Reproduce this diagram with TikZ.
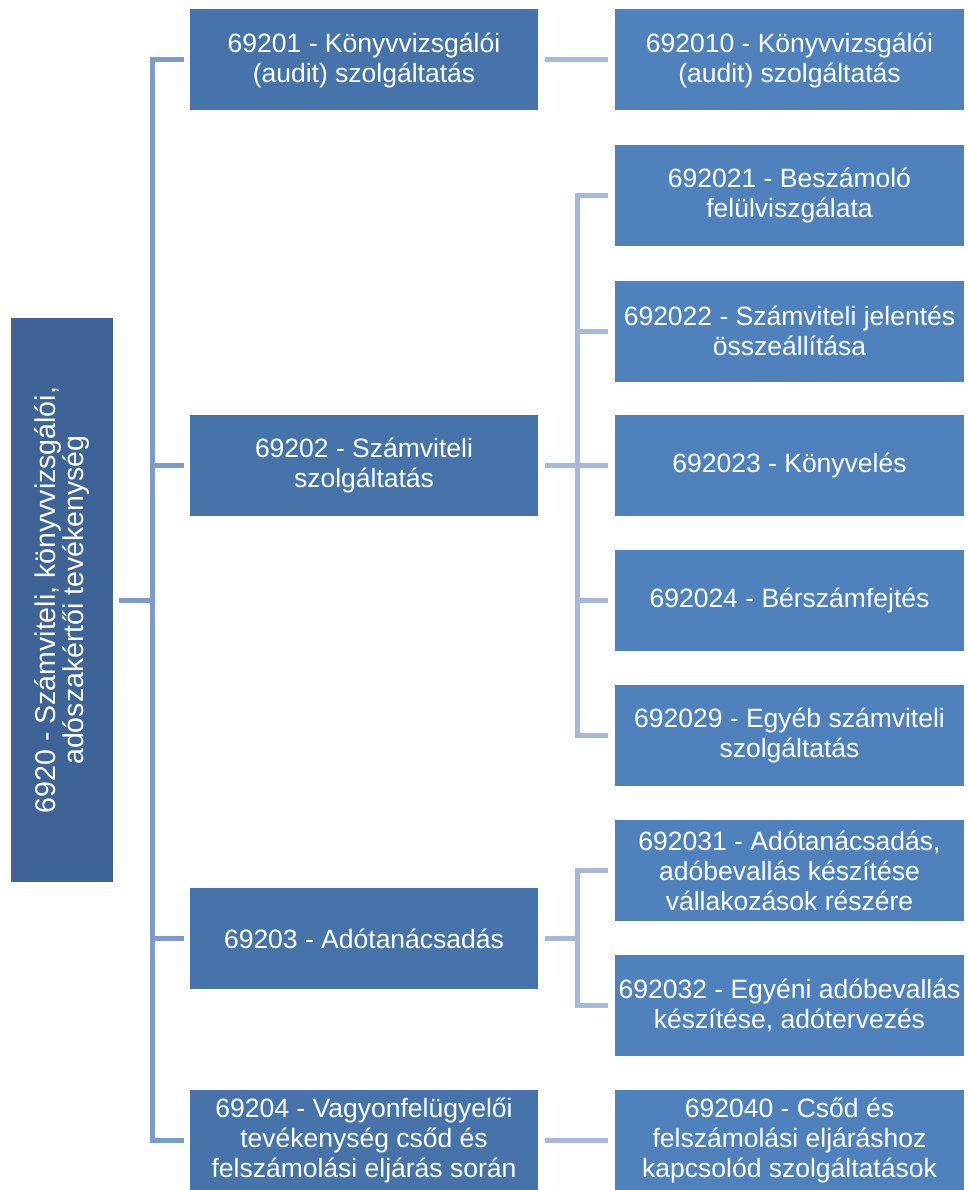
\documentclass[tikz,border=0pt]{standalone}
\usepackage{fontspec}
\setmainfont{Liberation Sans}
\usepackage{xcolor}
\definecolor{rootblue}{HTML}{3E6497}
\definecolor{midblue}{HTML}{4674AA}
\definecolor{leafblue}{HTML}{4F81BD}
\definecolor{trunkline}{HTML}{7B9CCB}
\definecolor{branchline}{HTML}{A6B9DA}

\begin{document}
\begin{tikzpicture}[x=1pt,y=-1pt]
\tikzset{box/.style={inner sep=0pt,align=center,text=white,font=\fontsize{26.5}{30}\selectfont}}
\tikzset{rootbox/.style={box,fill=rootblue,minimum width=564pt,minimum height=102pt,rotate=90,font=\fontsize{28.5}{28.5}\selectfont}}
\tikzset{midbox/.style={box,fill=midblue,minimum width=348pt,minimum height=101pt}}
\tikzset{leafbox/.style={box,fill=leafblue,minimum width=349pt,minimum height=101pt}}
\tikzset{trunk/.style={trunkline,line width=5pt}}
\tikzset{branch/.style={branchline,line width=5pt}}

\useasboundingbox (0,0) rectangle (967,1190);

% boxes
\node[rootbox] (root) at (62,600) {6920 - Számviteli, könyvvizsgálói,\\adószakértői tevékenység};

\node[midbox] (a1) at (364,60) {69201 - Könyvvizsgálói\\(audit) szolgáltatás};
\node[midbox] (a2) at (364,465.5) {69202 - Számviteli\\szolgáltatás};
\node[midbox] (a3) at (364,938.5) {69203 - Adótanácsadás};
\node[midbox] (a4) at (364,1140) {69204 - Vagyonfelügyelői\\tevékenység csőd és\\felszámolási eljárás során};

\node[leafbox] (b1) at (789.5,60) {692010 - Könyvvizsgálói\\(audit) szolgáltatás};
\node[leafbox] (b21) at (789.5,195.5) {692021 - Beszámoló\\felülviszgálata};
\node[leafbox] (b22) at (789.5,331) {692022 - Számviteli jelentés\\összeállítása};
\node[leafbox] (b23) at (789.5,465.5) {692023 - Könyvelés};
\node[leafbox] (b24) at (789.5,600.5) {692024 - Bérszámfejtés};
\node[leafbox] (b29) at (789.5,735.5) {692029 - Egyéb számviteli\\szolgáltatás};
\node[leafbox] (b31) at (789.5,870.5) {692031 - Adótanácsadás,\\adóbevallás készítése\\vállakozások részére};
\node[leafbox] (b32) at (789.5,1005.5) {692032 - Egyéni adóbevallás\\készítése, adótervezés};
\node[leafbox] (b4) at (789.5,1140) {692040 - Csőd és\\felszámolási eljáráshoz\\kapcsolód szolgáltatások};

% root to level 1
\draw[trunk] ([xshift=6pt]root.south) -- ++(33,0) coordinate (t);
\draw[trunk] ([xshift=-6pt]a1.west) -| (t) |- ([xshift=-6pt]a4.west);
\draw[trunk] (t |- a2) -- ([xshift=-6pt]a2.west);
\draw[trunk] (t |- a3) -- ([xshift=-6pt]a3.west);

% level 1 to level 2
\draw[branch] ([xshift=7pt]a1.east) -- ([xshift=-7pt]b1.west);
\draw[branch] ([xshift=7pt]a4.east) -- ([xshift=-7pt]b4.west);

\draw[branch] ([xshift=7pt]a2.east) -- ++(32,0) coordinate (s2);
\draw[branch] ([xshift=-7pt]b21.west) -| (s2) |- ([xshift=-7pt]b29.west);
\foreach \n in {b22,b23,b24}
  \draw[branch] (s2 |- \n) -- ([xshift=-7pt]\n.west);

\draw[branch] ([xshift=7pt]a3.east) -- ++(32,0) coordinate (s3);
\draw[branch] ([xshift=-7pt]b31.west) -| (s3) |- ([xshift=-7pt]b32.west);

\end{tikzpicture}
\end{document}
